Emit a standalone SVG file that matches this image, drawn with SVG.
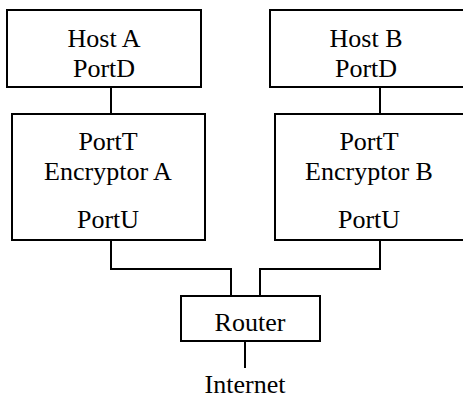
<svg xmlns="http://www.w3.org/2000/svg" width="463" height="398" viewBox="0 0 463 398">
<style>
.box{fill:#fff;stroke:#000;stroke-width:2}
.wire{fill:none;stroke:#000;stroke-width:2}
</style>
<rect width="463" height="398" fill="#fff"/>
<g id="connectors">
<line class="wire" x1="111" y1="87" x2="111" y2="114"/>
<line class="wire" x1="380" y1="87" x2="380" y2="114"/>
<polyline class="wire" points="111,240 111,269 231,269 231,296"/>
<polyline class="wire" points="380,240 380,269 260,269 260,296"/>
<line class="wire" x1="245" y1="341" x2="245" y2="368"/>
</g>
<g font-family="Liberation Serif, Times New Roman, serif" font-size="26" text-anchor="middle" fill="#000">
<g id="hostA">
<rect class="box" x="7" y="10" width="194" height="77"/>
<text x="104" y="47">Host A</text>
<text x="104" y="77">PortD</text>
</g>
<g id="hostB">
<rect class="box" x="270" y="10" width="194" height="77"/>
<text x="366" y="47">Host B</text>
<text x="366" y="77">PortD</text>
</g>
<g id="encA">
<rect class="box" x="12" y="114" width="193" height="126"/>
<text x="108" y="150">PortT</text>
<text x="108" y="180">Encryptor A</text>
<text x="108" y="228">PortU</text>
</g>
<g id="encB">
<rect class="box" x="275" y="114" width="193" height="126"/>
<text x="369" y="150">PortT</text>
<text x="369" y="180">Encryptor B</text>
<text x="369" y="228">PortU</text>
</g>
<g id="router">
<rect class="box" x="181" y="296" width="139" height="45"/>
<text x="250" y="331">Router</text>
</g>
<g id="internet">
<text x="245" y="393">Internet</text>
</g>
</g>
</svg>
